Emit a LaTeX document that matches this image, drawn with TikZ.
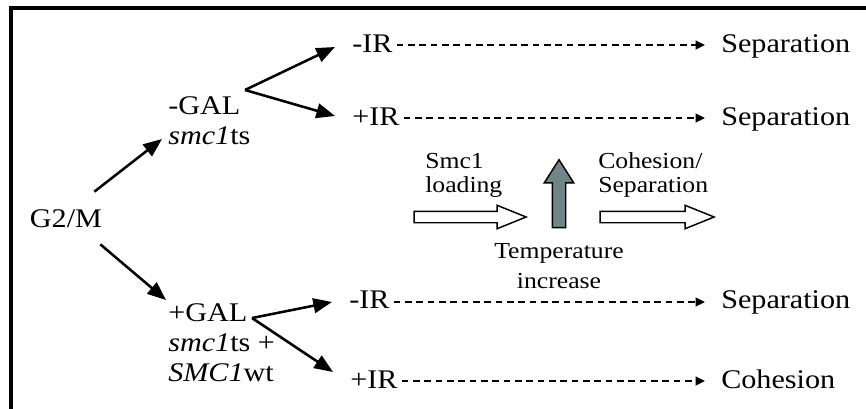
\documentclass[tikz,border=0pt]{standalone}
\usepackage{fontspec}
\setmainfont[FakeStretch=1.12]{Liberation Serif}
\usetikzlibrary{arrows.meta}
\usetikzlibrary{shapes.arrows}
\usetikzlibrary{calc,positioning}
\definecolor{arrowgray}{RGB}{112,133,133}
\tikzstyle{txt}=[font=\fontsize{20.2}{22.5}\selectfont,inner sep=0pt]
\tikzstyle{smalltxt}=[font=\fontsize{17.2}{18}\selectfont,inner sep=0pt]
\tikzstyle{arr}=[draw,line width=1.9pt,-{Triangle[length=14pt,width=11pt]}]
\tikzstyle{dasharr}=[draw,line width=1.4pt,dash pattern=on 5pt off 3.5pt,-{Triangle[length=7pt,width=6.5pt]}]
\tikzstyle{blockarr}=[single arrow,draw=black,line width=1.1pt,fill=white,inner xsep=0pt,inner ysep=3.75pt,minimum height=84pt,single arrow head extend=4.5pt,single arrow head indent=0pt,single arrow tip angle=44]
\tikzstyle{temparr}=[single arrow,draw=black,line width=1.1pt,fill=arrowgray,inner xsep=0pt,inner ysep=4.5pt,minimum height=51pt,single arrow head extend=6pt,single arrow head indent=0pt,single arrow tip angle=65,rotate=90]

\begin{document}
\begin{tikzpicture}[x=0.75pt,y=-0.75pt]
    % frame, only its top and left edges fall inside the picture
    \useasboundingbox (0,0) rectangle (866,408);
    \clip (0,0) rectangle (866,408);
    \draw[line width=2.3pt] (11,8) rectangle (920,460);

    % start and the two GAL conditions
    \node[txt] (g2m) at (66,219) {G2/M};
    \node[txt,anchor=north west,align=left] (gal1) at (168,96) {-GAL\\\textit{smc1}ts};
    \node[txt,anchor=north west,align=left] (gal2) at (168,303) {+GAL\\\textit{smc1}ts +\\\textit{SMC1}wt};

    % IR conditions and what comes out of them
    \foreach \pos/\name/\label in {{(352,52)/ir1/-IR}, {(352,125)/ir2/+IR}, {(349,308)/ir3/-IR}, {(350,388)/ir4/+IR}}
        \node[txt,anchor=base west] (\name) at \pos {\label};
    \foreach \pos/\name/\label in {{(721,52)/sep1/Separation}, {(721,125)/sep2/Separation}, {(721,308)/sep3/Separation}, {(721,388)/coh/Cohesion}}
        \node[txt,anchor=base west] (\name) at \pos {\label};

    % arrows out of G2/M
    \draw[arr] ($(g2m.north east)+(-8,-18)$) -- ($(gal1.north west)+(-6,43)$);
    \draw[arr] ($(g2m.south east)+(-2,16)$) -- ($(gal2.north west)+(-2,-3)$);

    % forks to the IR conditions
    \coordinate (fork1) at ($(gal1.north west)+(77,-6)$);
    \coordinate (fork2) at ($(gal2.north west)+(84,15)$);
    \foreach \source/\dest/\dy in {fork1/ir1/-5, fork1/ir2/-9, fork2/ir3/-6, fork2/ir4/-16}
        \draw[arr] (\source) -- ($(\dest.base west)+(-17,\dy)$);

    % dashed arrows to the outcomes
    \foreach \source/\dest/\dy in {ir1/sep1/-7, ir2/sep2/-7, ir3/sep3/-6, ir4/coh/-7}
        \draw[dasharr] ($(\source.base east)+(4,\dy)$) -- ($(\source.base east -| \dest.base west)+(-16,\dy)$);

    % the time line in the middle
    \node[smalltxt,anchor=north west,align=left] (load) at (425,153) {Smc1\\loading};
    \node[smalltxt,anchor=north west,align=left] (cohsep) at (598,152) {Cohesion/\\Separation};
    \node[blockarr] (loadarrow) at (463,217) {};
    \node[blockarr,minimum height=85.5pt] (cohsarrow) at (650,217) {};
    \node[temparr] (temparrow) at (559,199) {};
    \node[smalltxt,font=\fontsize{17.2}{22.5}\selectfont,anchor=north,align=center] (temp) at (559,243) {Temperature\\increase};
\end{tikzpicture}
\end{document}
